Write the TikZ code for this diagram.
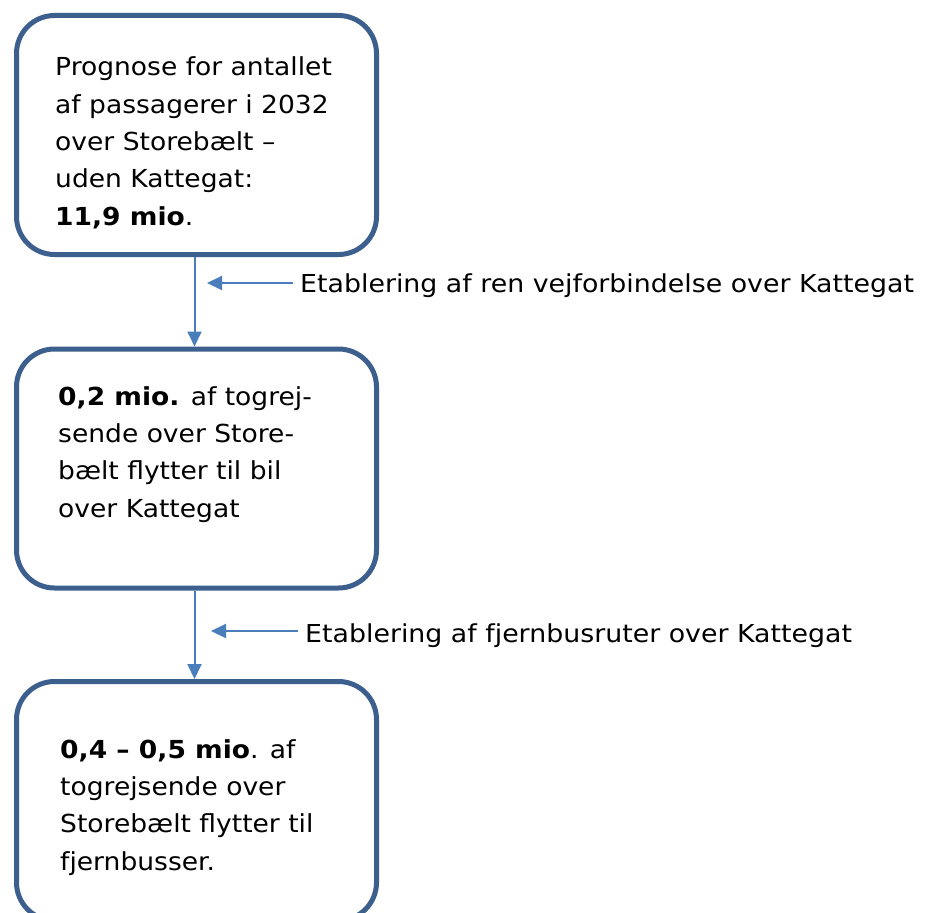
\documentclass[tikz,border=0pt]{standalone}
\usepackage{fontspec}
\usetikzlibrary{arrows.meta,calc}
\newfontfamily\boxfont{DejaVu Sans}[FakeStretch=1.07]
\newfontfamily\labfont{DejaVu Sans}[FakeStretch=1.085]
\definecolor{boxblue}{HTML}{3C5F8E}
\definecolor{arrblue}{HTML}{4A7EBB}
\tikzset{
  flowbox/.style={draw=boxblue, line width=5pt, rounded corners=38pt, minimum width=360pt, minimum height=239pt, inner sep=0pt, fill=white},
  boxtext/.style={anchor=base west, align=left, inner sep=0pt, font=\boxfont\fontsize{24.8}{37.3}\selectfont},
  labtext/.style={anchor=base west, inner sep=0pt, font=\labfont\fontsize{24.7}{30}\selectfont},
  conn/.style={draw=arrblue, line width=2pt, -{Triangle[length=15pt,width=14pt]}}
}
\begin{document}
\begin{tikzpicture}[x=1pt,y=1pt]
\useasboundingbox (0,0) rectangle (925,-912);
\fill[white] (0,0) rectangle (925,-912);
\node[flowbox] (box1) at (196.5,-135) {};
\node[flowbox] (box2) at (196.5,-468.5) {};
\node[flowbox] (box3) at (196.5,-801) {};
\node[boxtext] (t1) at (55,-225) {Prognose for antallet\\af passagerer i 2032\\over Storebælt –\\uden Kattegat:\\\textbf{11,9 mio}.};
\node[boxtext] (t2) at (58,-517) {\textbf{0,2 mio.} af togrej-\\sende over Store-\\bælt flytter til bil\\over Kattegat};
\node[boxtext] (t3) at (60,-870) {\textbf{0,4 – 0,5 mio}. af\\togrejsende over\\Storebælt flytter til\\fjernbusser.};
\node[labtext] (lab1) at (300,-292) {Etablering af ren vejforbindelse over Kattegat};
\node[labtext] (lab2) at (305,-642) {Etablering af fjernbusruter over Kattegat};
\coordinate (h1) at (207,-283);
\coordinate (h2) at (211,-631);
\draw[conn] ($(box1.south)+(-2,0)$) -- ($(box2.north)+(-2,0)$);
\draw[conn] ($(box2.south)+(-2,0)$) -- ($(box3.north)+(-2,0)$);
\draw[conn] ($(lab1.west |- h1)+(-7,0)$) -- (h1);
\draw[conn] ($(lab2.west |- h2)+(-7,0)$) -- (h2);
\end{tikzpicture}
\end{document}
